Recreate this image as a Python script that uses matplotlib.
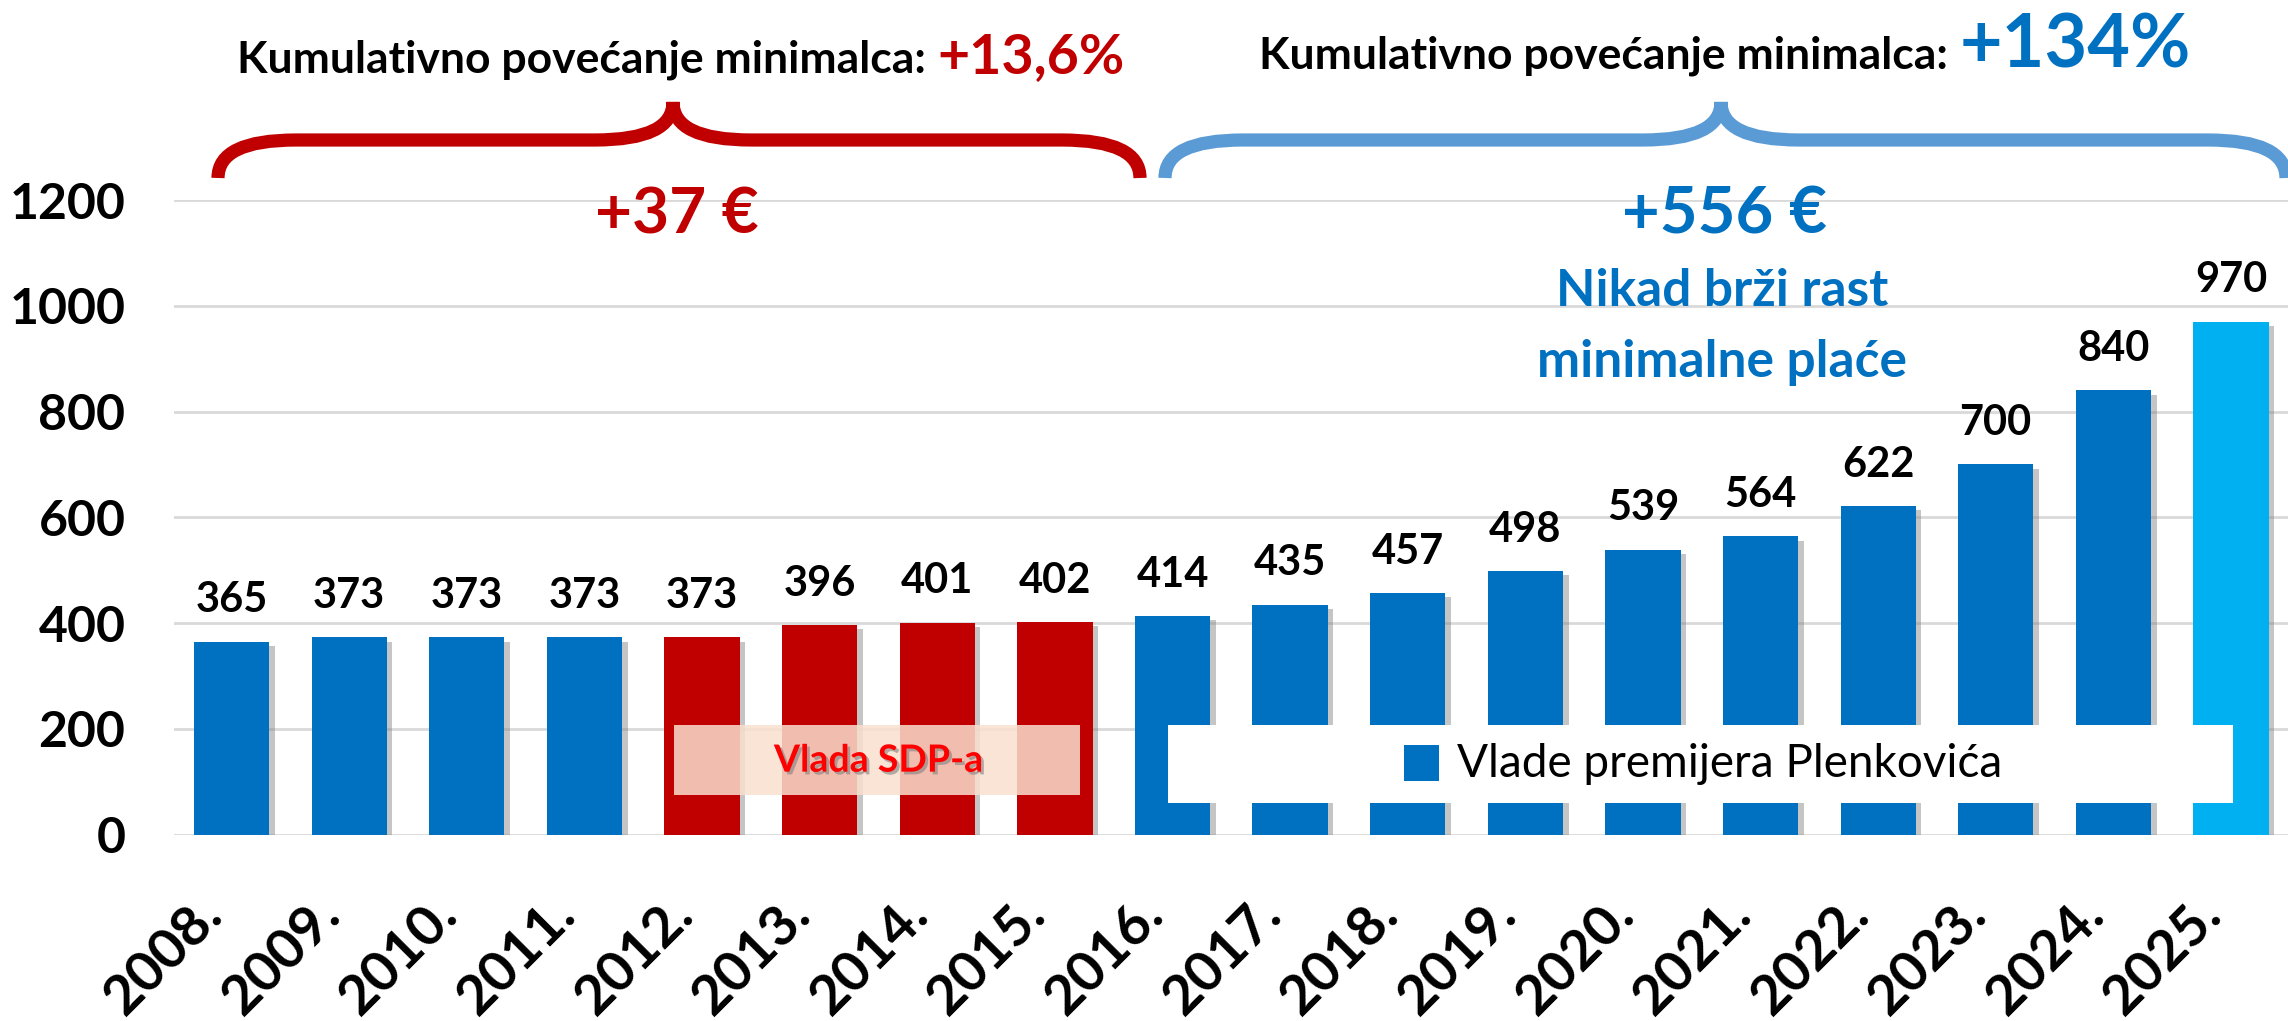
import numpy as np
import matplotlib
matplotlib.use("Agg")
import matplotlib.pyplot as plt
import matplotlib.patheffects as pe
from matplotlib.path import Path
from matplotlib.patches import PathPatch, Rectangle
from matplotlib.transforms import Affine2D, ScaledTranslation

# minimalna plaća (EUR) po godinama
years = ['2008.', '2009.', '2010.', '2011.', '2012.', '2013.', '2014.', '2015.', '2016.',
         '2017.', '2018.', '2019.', '2020.', '2021.', '2022.', '2023.', '2024.', '2025.']
wages = [365, 373, 373, 373, 373, 396, 401, 402, 414, 435, 457, 498, 539, 564, 622, 700, 840, 970]
sdp_years = ['2012.', '2013.', '2014.', '2015.']
latest_year = '2025.'
yticks = [0, 200, 400, 600, 800, 1000, 1200]

BLUE = '#0070C0'
RED = '#C00000'
LIGHT_BLUE = '#00B0F0'
BRACE_BLUE = '#5B9BD5'

plt.rcParams['font.family'] = ['Lato', 'DejaVu Sans']

W, H = 2288, 1021
fig = plt.figure(figsize=(W / 100, H / 100), dpi=100)
ax = fig.add_axes([174 / W, 1 - 834.7 / H, (W - 174) / W, (834.7 - 200) / H])

# pixel coords measured from top-left of the figure
px = Affine2D().scale(1 / W, -1 / H).translate(0, 1) + fig.transFigure


def bar_color(y):
    if y in sdp_years:
        return RED
    if y == latest_year:
        return LIGHT_BLUE
    return BLUE


x = np.arange(len(years))
bars = ax.bar(x, wages, width=0.64, color=[bar_color(y) for y in years], zorder=3)
for b in bars:
    b.set_path_effects([pe.SimplePatchShadow(offset=(4, -3), shadow_rgbFace='#808080', alpha=0.45),
                        pe.Normal()])

for xi, v in zip(x, wages):
    ax.annotate(str(v), (xi, v), xytext=(0, 21), textcoords='offset points',
                ha='center', va='baseline', fontsize=30, fontweight='bold', color='black', zorder=5)

ax.set_xlim(-0.49, len(years) - 0.515)
ax.set_ylim(0, 1200)
ax.set_yticks(yticks)
ax.set_yticklabels([str(t) for t in yticks], fontsize=36, fontweight='bold')
ax.set_xticks(x)
ax.set_xticklabels(years, rotation=45, ha='right', fontsize=40, fontweight='bold')
shift = ScaledTranslation(0.12, 0, fig.dpi_scale_trans)
for lbl in ax.get_xticklabels():
    lbl.set_transform(lbl.get_transform() + shift)
ax.tick_params(axis='both', length=0)
ax.tick_params(axis='y', pad=35)
ax.tick_params(axis='x', pad=38)
ax.yaxis.grid(True, color='#D9D9D9', lw=2)
ax.set_axisbelow(True)
for s in ax.spines.values():
    s.set_visible(False)

# legend-like boxes
ax.add_patch(Rectangle((3.76, 75), 3.45, 132, facecolor='#FAE0CF', alpha=0.85, lw=0, zorder=4))
ax.text(5.5, 140, 'Vlada SDP-a', color='#FF0000', fontsize=27, fontweight='bold',
        ha='center', va='center', zorder=5,
        path_effects=[pe.SimplePatchShadow(offset=(2, -2), shadow_rgbFace='#808080', alpha=0.6),
                      pe.Normal()])

ax.add_patch(Rectangle((7.96, 60), 9.06, 147, facecolor='white', lw=0, zorder=4))
ax.add_patch(Rectangle((9.97, 101), 0.3, 69, facecolor=BLUE, lw=0, zorder=5))
ax.text(10.42, 134, 'Vlade premijera Plenkovića', color='black', fontsize=33,
        ha='left', va='center', zorder=5)


def brace(x0, x1, xc, color):
    y_end, y_band, y_tip, r = 178, 140, 102, 78
    verts = [(x0, y_end), (x0, y_band), (x0 + r, y_band),
             (xc - r, y_band), (xc, y_band), (xc, y_tip),
             (xc, y_band), (xc + r, y_band),
             (x1 - r, y_band), (x1, y_band), (x1, y_end)]
    codes = [Path.MOVETO, Path.CURVE3, Path.CURVE3,
             Path.LINETO, Path.CURVE3, Path.CURVE3,
             Path.CURVE3, Path.CURVE3,
             Path.LINETO, Path.CURVE3, Path.CURVE3]
    fig.add_artist(PathPatch(Path(verts, codes), transform=px, fill=False,
                             edgecolor=color, lw=9.5, capstyle='butt'))


brace(218, 1140, 673, RED)
brace(1165, 2286, 1721, BRACE_BLUE)

# headings
fig.text(926, 73, 'Kumulativno povećanje minimalca:', transform=px, ha='right', va='baseline',
         fontsize=32, fontweight='bold', color='black')
fig.text(937, 73, '+13,6%', transform=px, ha='left', va='baseline',
         fontsize=40, fontweight='bold', color=RED)
fig.text(1948, 68, 'Kumulativno povećanje minimalca:', transform=px, ha='right', va='baseline',
         fontsize=32, fontweight='bold', color='black')
fig.text(1960, 68, '+134%', transform=px, ha='left', va='baseline',
         fontsize=53, fontweight='bold', color=BLUE)

fig.text(677, 233, '+37 €', transform=px, ha='center', va='baseline',
         fontsize=46, fontweight='bold', color=RED)
fig.text(1725, 233, '+556 €', transform=px, ha='center', va='baseline',
         fontsize=47, fontweight='bold', color=BLUE)
fig.text(1722, 306, 'Nikad brži rast', transform=px, ha='center', va='baseline',
         fontsize=37, fontweight='bold', color=BLUE)
fig.text(1722, 377, 'minimalne plaće', transform=px, ha='center', va='baseline',
         fontsize=37, fontweight='bold', color=BLUE)

fig.savefig('out.png', dpi=100)
